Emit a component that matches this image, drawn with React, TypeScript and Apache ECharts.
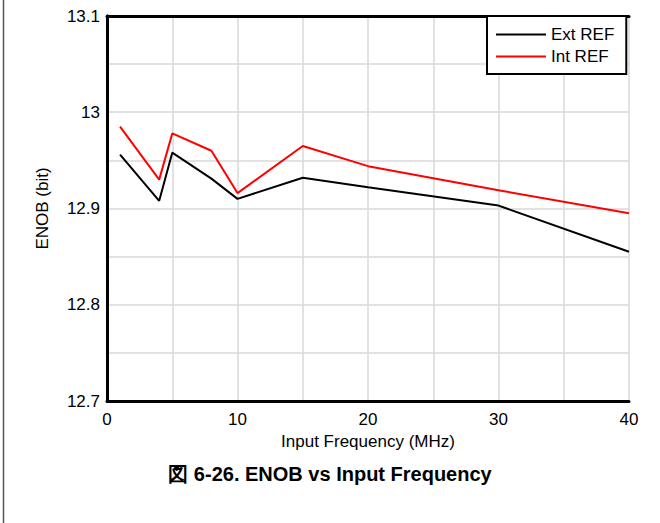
import React, { useEffect, useRef } from "react";
import * as echarts from "echarts";

const freqExt = [1, 4, 5, 8, 10, 15, 20, 30, 40];
const enobExt = [12.956, 12.908, 12.958, 12.931, 12.91, 12.932, 12.922, 12.903, 12.855];
const freqInt = [1, 4, 5, 8, 10, 15, 20, 30, 40];
const enobInt = [12.985, 12.93, 12.978, 12.96, 12.916, 12.965, 12.944, 12.919, 12.895];
const seriesNames = ["Ext REF", "Int REF"];
const xTitle = "Input Frequency (MHz)";
const yTitle = "ENOB (bit)";
const caption = "図 6-26. ENOB vs Input Frequency";

const FONT = "'Liberation Sans', Arial, sans-serif";

export default function App() {
  const ref = useRef<HTMLDivElement>(null);
  useEffect(() => {
    document.body.style.margin = "0";
    const chart = echarts.init(ref.current!, null, { renderer: "svg" });
    const isMajor = (v: number, step: number) =>
      Math.abs(v / step - Math.round(v / step)) < 1e-6;
    const frameAxis = {
      axisLine: { show: true, lineStyle: { color: "#000", width: 3 } },
      axisTick: { show: false },
      axisLabel: { show: false },
      splitLine: { show: false },
    };
    chart.setOption({
      animation: false,
      textStyle: { fontFamily: FONT },
      title: {
        text: caption,
        left: "center",
        top: 459,
        textStyle: { fontFamily: FONT, fontSize: 20, fontWeight: "bold", color: "#000" },
      },
      grid: {
        left: 107,
        top: 16,
        right: 31,
        bottom: 122,
      },
      legend: {
        data: seriesNames,
        orient: "vertical",
        left: 487,
        top: 16,
        padding: [10, 12, 9, 9],
        itemGap: 5,
        itemWidth: 50,
        itemHeight: 2,
        itemTextGap: 10,
        icon: "rect",
        backgroundColor: "#fff",
        borderColor: "#000",
        borderWidth: 2,
        borderRadius: 0,
        textStyle: { fontFamily: FONT, fontSize: 17, color: "#000", lineHeight: 17 },
      },
      xAxis: [
        {
          type: "value",
          min: 0,
          max: 40,
          interval: 5,
          name: xTitle,
          nameLocation: "middle",
          nameGap: 27,
          nameTextStyle: { fontFamily: FONT, fontSize: 17, color: "#000" },
          axisLine: { show: true, lineStyle: { color: "#000", width: 3 } },
          axisTick: { show: false },
          axisLabel: {
            fontFamily: FONT,
            fontSize: 17,
            color: "#000",
            margin: 10,
            formatter: (v: number) => (isMajor(v, 10) ? String(v) : ""),
          },
          splitLine: { show: true, lineStyle: { color: "#d9d9d9", width: 1.5 } },
        },
        { type: "value", position: "top", min: 0, max: 40, interval: 5, ...frameAxis },
      ],
      yAxis: [
        {
          type: "value",
          min: 12.7,
          max: 13.1,
          interval: 0.05,
          name: yTitle,
          nameLocation: "middle",
          nameGap: 56,
          nameTextStyle: { fontFamily: FONT, fontSize: 17, color: "#000" },
          axisLine: { show: true, lineStyle: { color: "#000", width: 3 } },
          axisTick: { show: false },
          axisLabel: {
            fontFamily: FONT,
            fontSize: 17,
            color: "#000",
            margin: 7,
            formatter: (v: number) =>
              isMajor(v, 0.1) ? String(Math.round(v * 10) / 10) : "",
          },
          splitLine: { show: true, lineStyle: { color: "#d9d9d9", width: 1.5 } },
        },
        {
          type: "value",
          position: "right",
          min: 12.7,
          max: 13.1,
          interval: 0.05,
          ...frameAxis,
        },
      ],
      graphic: [
        {
          type: "line",
          shape: { x1: 3.5, y1: 0, x2: 3.5, y2: 523 },
          style: { stroke: "#555", lineWidth: 1.5 },
          silent: true,
        },
      ],
      series: [
        {
          name: seriesNames[0],
          type: "line",
          data: freqExt.map((f, i) => [f, enobExt[i]]),
          showSymbol: false,
          symbol: "none",
          lineStyle: { color: "#000", width: 2 },
          itemStyle: { color: "#000" },
          z: 3,
        },
        {
          name: seriesNames[1],
          type: "line",
          data: freqInt.map((f, i) => [f, enobInt[i]]),
          showSymbol: false,
          symbol: "none",
          lineStyle: { color: "#ff0000", width: 2 },
          itemStyle: { color: "#ff0000" },
          z: 3,
        },
      ],
    });
    return () => chart.dispose();
  }, []);
  return <div ref={ref} style={{ width: 660, height: 523 }} />;
}
